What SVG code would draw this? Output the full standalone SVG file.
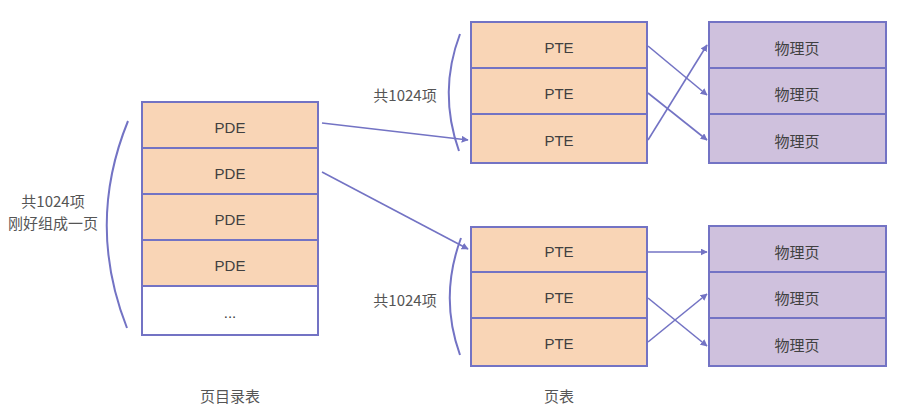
<svg xmlns="http://www.w3.org/2000/svg" width="905" height="413" viewBox="0 0 905 413">
<defs>
<style>
.pde{fill:#F9D5B6;stroke:#7373C4;stroke-width:2}
.blank{fill:#FFFFFF;stroke:#7373C4;stroke-width:2}
.phy{fill:#CFC1DD;stroke:#7373C4;stroke-width:2}
.t{font-family:"Liberation Sans","Noto Sans CJK SC",sans-serif;font-size:15px;fill:#404040;text-anchor:middle;dominant-baseline:central}
.lbl{font-family:"Noto Sans CJK SC","Liberation Sans",sans-serif;font-size:15px;fill:#555555;text-anchor:middle;dominant-baseline:central}
.c{font-family:"Noto Sans CJK SC",sans-serif;font-size:15px;fill:#404040;text-anchor:middle;dominant-baseline:central}
.ln{fill:none;stroke:#7373C4;stroke-width:1.6}
.arc{fill:none;stroke:#7373C4;stroke-width:2}
</style>
<marker id="ah" viewBox="0 0 10 10" refX="9" refY="5" markerWidth="7" markerHeight="7" markerUnits="userSpaceOnUse" orient="auto">
<path d="M0,0 L10,5 L0,10 z" fill="#7373C4"/>
</marker>
</defs>
<rect width="905" height="413" fill="#FFFFFF"/>

<g id="pde-table">
<rect class="pde" x="142" y="102" width="176" height="46"/>
<text class="t" x="230" y="127">PDE</text>
<rect class="pde" x="142" y="148" width="176" height="46"/>
<text class="t" x="230" y="173">PDE</text>
<rect class="pde" x="142" y="194" width="176" height="46"/>
<text class="t" x="230" y="219">PDE</text>
<rect class="pde" x="142" y="240" width="176" height="46"/>
<text class="t" x="230" y="265">PDE</text>
<rect class="blank" x="142" y="286" width="176" height="49"/>
<text class="t" x="230" y="312">...</text>
</g>

<g id="pte-table-top">
<rect class="pde" x="471" y="22" width="176" height="46"/>
<text class="t" x="559" y="47">PTE</text>
<rect class="pde" x="471" y="68" width="176" height="46"/>
<text class="t" x="559" y="93">PTE</text>
<rect class="pde" x="471" y="114" width="176" height="49"/>
<text class="t" x="559" y="140">PTE</text>
</g>

<g id="pte-table-bottom">
<rect class="pde" x="471" y="227" width="176" height="45"/>
<text class="t" x="559" y="251">PTE</text>
<rect class="pde" x="471" y="272" width="176" height="46"/>
<text class="t" x="559" y="297">PTE</text>
<rect class="pde" x="471" y="318" width="176" height="48"/>
<text class="t" x="559" y="343">PTE</text>
</g>

<g id="phys-top">
<rect class="phy" x="709" y="22" width="177" height="46"/>
<text class="c" x="797" y="47">物理页</text>
<rect class="phy" x="709" y="68" width="177" height="46"/>
<text class="c" x="797" y="93">物理页</text>
<rect class="phy" x="709" y="114" width="177" height="49"/>
<text class="c" x="797" y="140">物理页</text>
</g>

<g id="phys-bottom">
<rect class="phy" x="709" y="226" width="177" height="46"/>
<text class="c" x="797" y="251">物理页</text>
<rect class="phy" x="709" y="272" width="177" height="46"/>
<text class="c" x="797" y="297">物理页</text>
<rect class="phy" x="709" y="318" width="177" height="48"/>
<text class="c" x="797" y="344">物理页</text>
</g>

<g id="brackets">
<path class="arc" d="M128,121 Q86,224 127,328"/>
<path class="arc" d="M460,34 Q438,92 459,151"/>
<path class="arc" d="M461,238 Q439,297 460,355"/>
</g>

<g id="labels">
<text class="lbl" x="53" y="200">共1024项</text>
<text class="lbl" x="53" y="222">刚好组成一页</text>
<text class="lbl" x="405" y="94">共1024项</text>
<text class="lbl" x="405" y="299">共1024项</text>
<text class="lbl" x="230" y="395">页目录表</text>
<text class="lbl" x="559" y="395">页表</text>
</g>

<g id="connectors">
<line class="ln" x1="322" y1="123" x2="468" y2="140" marker-end="url(#ah)"/>
<line class="ln" x1="322" y1="172" x2="468" y2="249" marker-end="url(#ah)"/>
<line class="ln" x1="648" y1="46" x2="707" y2="95" marker-end="url(#ah)"/>
<line class="ln" x1="648" y1="93" x2="707" y2="140" marker-end="url(#ah)"/>
<line class="ln" x1="648" y1="140" x2="707" y2="45" marker-end="url(#ah)"/>
<line class="ln" x1="648" y1="252" x2="707" y2="252" marker-end="url(#ah)"/>
<line class="ln" x1="648" y1="298" x2="707" y2="346" marker-end="url(#ah)"/>
<line class="ln" x1="648" y1="342" x2="707" y2="294" marker-end="url(#ah)"/>
</g>
</svg>
